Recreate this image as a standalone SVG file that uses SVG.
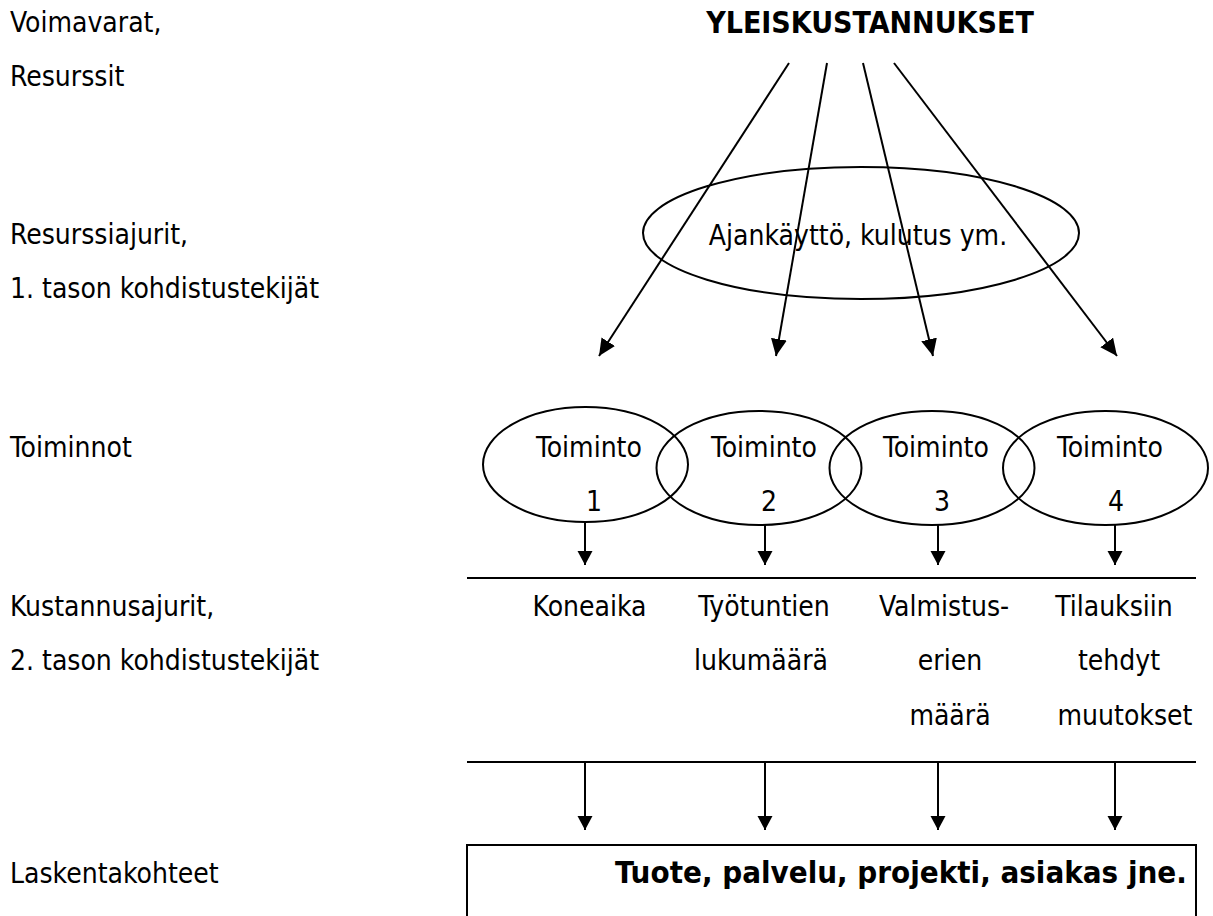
<svg xmlns="http://www.w3.org/2000/svg" width="1213" height="916" viewBox="0 0 1213 916">
<style>
text{font-family:"DejaVu Sans Condensed","DejaVu Sans",sans-serif;font-stretch:condensed;font-size:28px;fill:#000}
.b{font-weight:bold}
.m{text-anchor:middle}
.s{fill:none;stroke:#000;stroke-width:2}
</style>
<defs>
<marker id="ah" markerUnits="userSpaceOnUse" markerWidth="20" markerHeight="18" refX="17" refY="8" orient="auto">
<path d="M0,0 L17,8 L0,16 Z" fill="#000"/>
</marker>
<marker id="ah2" markerUnits="userSpaceOnUse" markerWidth="18" markerHeight="16" refX="14" refY="7.5" orient="auto">
<path d="M0,0 L14,7.5 L0,15 Z" fill="#000"/>
</marker>
</defs>
<rect width="1213" height="916" fill="#fff"/>
<g id="labels">
<text x="10" y="32">Voimavarat,</text>
<text x="10" y="86">Resurssit</text>
<text x="10" y="244">Resurssiajurit,</text>
<text x="10" y="298">1. tason kohdistustekijät</text>
<text x="10" y="457">Toiminnot</text>
<text x="10" y="616">Kustannusajurit,</text>
<text x="10" y="670">2. tason kohdistustekijät</text>
<text x="10" y="883">Laskentakohteet</text>
</g>
<g id="yleiskustannukset"><text class="b m" x="870" y="33" style="font-size:30px">YLEISKUSTANNUKSET</text></g>
<g id="resurssiajurit">
<ellipse class="s" cx="861" cy="233" rx="218" ry="66"/>
<text class="m" x="858" y="245">Ajankäyttö, kulutus ym.</text>
</g>
<g id="toiminto1"><ellipse class="s" cx="585.5" cy="464.5" rx="102.5" ry="57.5"/><text class="m" x="589" y="457">Toiminto</text><text class="m" x="594" y="511">1</text></g>
<g id="toiminto2"><ellipse class="s" cx="759" cy="468" rx="102.5" ry="57"/><text class="m" x="764" y="457">Toiminto</text><text class="m" x="769" y="511">2</text></g>
<g id="toiminto3"><ellipse class="s" cx="932" cy="468" rx="102.5" ry="57"/><text class="m" x="936" y="457">Toiminto</text><text class="m" x="942" y="511">3</text></g>
<g id="toiminto4"><ellipse class="s" cx="1105.5" cy="468" rx="102.5" ry="57"/><text class="m" x="1110" y="457">Toiminto</text><text class="m" x="1116" y="511">4</text></g>
<g id="ajurit">
<text class="m" x="589.5" y="616">Koneaika</text>
<text class="m" x="764" y="616">Työtuntien</text>
<text class="m" x="761" y="670">lukumäärä</text>
<text class="m" x="944" y="616">Valmistus-</text>
<text class="m" x="950" y="670">erien</text>
<text class="m" x="950" y="725">määrä</text>
<text class="m" x="1114" y="616">Tilauksiin</text>
<text class="m" x="1119" y="670">tehdyt</text>
<text class="m" x="1125" y="725">muutokset</text>
</g>
<g id="laskentakohteet">
<rect class="s" x="467" y="845" width="729" height="100"/>
<text class="b" x="615" y="883" style="font-size:31px">Tuote, palvelu, projekti, asiakas jne.</text>
</g>
<g id="connectors" class="s">
<line x1="789" y1="63" x2="599" y2="356" marker-end="url(#ah)"/>
<line x1="827" y1="63" x2="776" y2="356" marker-end="url(#ah)"/>
<line x1="863" y1="63" x2="933" y2="356" marker-end="url(#ah)"/>
<line x1="894" y1="63" x2="1117" y2="356" marker-end="url(#ah)"/>
<line x1="585" y1="521" x2="585" y2="565" marker-end="url(#ah2)"/>
<line x1="765" y1="525" x2="765" y2="565" marker-end="url(#ah2)"/>
<line x1="938" y1="525" x2="938" y2="565" marker-end="url(#ah2)"/>
<line x1="1115" y1="525" x2="1115" y2="565" marker-end="url(#ah2)"/>
<line x1="467" y1="578" x2="1196" y2="578"/>
<line x1="467" y1="762" x2="1196" y2="762"/>
<line x1="585" y1="762" x2="585" y2="830" marker-end="url(#ah2)"/>
<line x1="765" y1="762" x2="765" y2="830" marker-end="url(#ah2)"/>
<line x1="938" y1="762" x2="938" y2="830" marker-end="url(#ah2)"/>
<line x1="1115" y1="762" x2="1115" y2="830" marker-end="url(#ah2)"/>
</g>
</svg>
